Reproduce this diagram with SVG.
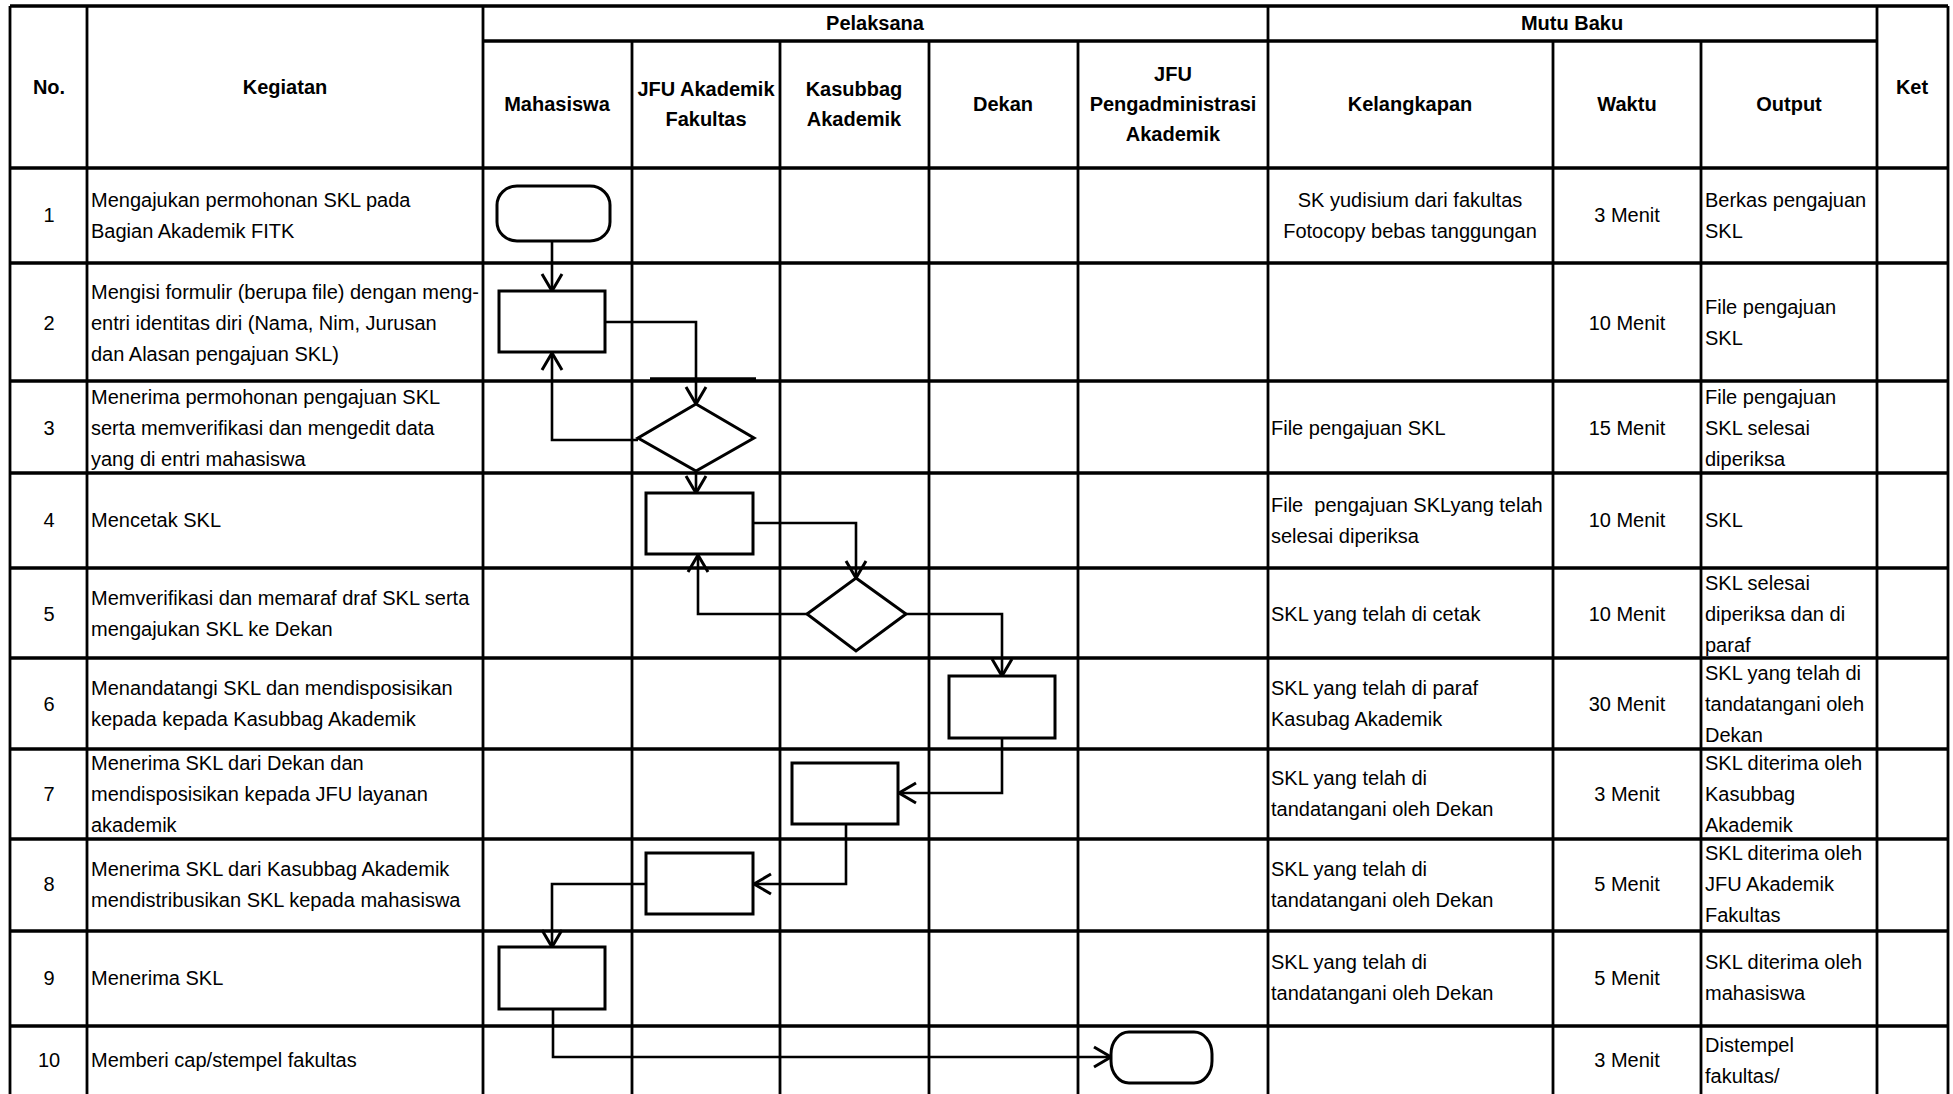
<svg xmlns="http://www.w3.org/2000/svg" width="1953" height="1094" viewBox="0 0 1953 1094">
<style>
  .bg{fill:#fff}
  .h{stroke:#000;stroke-width:3.5;fill:none}
  .v{stroke:#000;stroke-width:2.8;fill:none}
  .shape{fill:#fff;stroke:#000;stroke-width:3}
  .conn{fill:none;stroke:#000;stroke-width:2.6;stroke-linejoin:miter}
  text{font-family:"Liberation Sans",Arial,sans-serif;font-size:20px;fill:#000;dominant-baseline:central}
  .hd{font-weight:bold;text-anchor:middle}
  .c{text-anchor:middle}
  .l{text-anchor:start}
</style>
<defs>
  <marker id="arr" markerUnits="userSpaceOnUse" markerWidth="40" markerHeight="40" refX="0" refY="0" orient="auto" overflow="visible" viewBox="-20 -20 40 40">
    <path d="M-17,-10 L0,0 L-17,10" fill="none" stroke="#000" stroke-width="3"/>
  </marker>
</defs>
<rect class="bg" x="0" y="0" width="1953" height="1094"/>

<g id="table">
  <line class="h" x1="10" y1="6" x2="1948" y2="6"/>
  <line class="h" x1="483" y1="41" x2="1877" y2="41"/>
  <line class="h" x1="10" y1="168" x2="1948" y2="168"/>
  <line class="h" x1="10" y1="263" x2="1948" y2="263"/>
  <line class="h" x1="10" y1="381" x2="1948" y2="381"/>
  <line class="h" x1="10" y1="473" x2="1948" y2="473"/>
  <line class="h" x1="10" y1="568" x2="1948" y2="568"/>
  <line class="h" x1="10" y1="658" x2="1948" y2="658"/>
  <line class="h" x1="10" y1="749" x2="1948" y2="749"/>
  <line class="h" x1="10" y1="839" x2="1948" y2="839"/>
  <line class="h" x1="10" y1="931" x2="1948" y2="931"/>
  <line class="h" x1="10" y1="1026" x2="1948" y2="1026"/>
  <line class="v" x1="10" y1="6" x2="10" y2="1094"/>
  <line class="v" x1="87" y1="6" x2="87" y2="1094"/>
  <line class="v" x1="483" y1="6" x2="483" y2="1094"/>
  <line class="v" x1="632" y1="41" x2="632" y2="1094"/>
  <line class="v" x1="780" y1="41" x2="780" y2="1094"/>
  <line class="v" x1="929" y1="41" x2="929" y2="1094"/>
  <line class="v" x1="1078" y1="41" x2="1078" y2="1094"/>
  <line class="v" x1="1268" y1="6" x2="1268" y2="1094"/>
  <line class="v" x1="1553" y1="41" x2="1553" y2="1094"/>
  <line class="v" x1="1701" y1="41" x2="1701" y2="1094"/>
  <line class="v" x1="1877" y1="6" x2="1877" y2="1094"/>
  <line class="v" x1="1948" y1="6" x2="1948" y2="1094"/>

  <text class="hd" x="49" y="87">No.</text>
  <text class="hd" x="285" y="87">Kegiatan</text>
  <text class="hd" x="875" y="23">Pelaksana</text>
  <text class="hd" x="1572" y="23">Mutu Baku</text>
  <text class="hd" x="1912" y="87">Ket</text>
  <text class="hd" x="557" y="104">Mahasiswa</text>
  <text class="hd" x="706" y="89">JFU Akademik</text>
  <text class="hd" x="706" y="119">Fakultas</text>
  <text class="hd" x="854" y="89">Kasubbag</text>
  <text class="hd" x="854" y="119">Akademik</text>
  <text class="hd" x="1003" y="104">Dekan</text>
  <text class="hd" x="1173" y="74">JFU</text>
  <text class="hd" x="1173" y="104">Pengadministrasi</text>
  <text class="hd" x="1173" y="134">Akademik</text>
  <text class="hd" x="1410" y="104">Kelangkapan</text>
  <text class="hd" x="1627" y="104">Waktu</text>
  <text class="hd" x="1789" y="104">Output</text>

  <text class="c" x="49" y="215">1</text>
  <text class="c" x="49" y="323">2</text>
  <text class="c" x="49" y="428">3</text>
  <text class="c" x="49" y="520">4</text>
  <text class="c" x="49" y="614">5</text>
  <text class="c" x="49" y="704">6</text>
  <text class="c" x="49" y="794">7</text>
  <text class="c" x="49" y="884">8</text>
  <text class="c" x="49" y="978">9</text>
  <text class="c" x="49" y="1060">10</text>

  <text class="l" x="91" y="200">Mengajukan permohonan SKL pada</text>
  <text class="l" x="91" y="231">Bagian Akademik FITK</text>
  <text class="l" x="91" y="292">Mengisi formulir (berupa file) dengan meng-</text>
  <text class="l" x="91" y="323">entri identitas diri (Nama, Nim, Jurusan</text>
  <text class="l" x="91" y="354">dan Alasan pengajuan SKL)</text>
  <text class="l" x="91" y="397">Menerima permohonan pengajuan SKL</text>
  <text class="l" x="91" y="428">serta memverifikasi dan mengedit data</text>
  <text class="l" x="91" y="459">yang di entri mahasiswa</text>
  <text class="l" x="91" y="520">Mencetak SKL</text>
  <text class="l" x="91" y="598">Memverifikasi dan memaraf draf SKL serta</text>
  <text class="l" x="91" y="629">mengajukan SKL ke Dekan</text>
  <text class="l" x="91" y="688">Menandatangi SKL dan mendisposisikan</text>
  <text class="l" x="91" y="719">kepada kepada Kasubbag Akademik</text>
  <text class="l" x="91" y="763">Menerima SKL dari Dekan dan</text>
  <text class="l" x="91" y="794">mendisposisikan kepada JFU layanan</text>
  <text class="l" x="91" y="825">akademik</text>
  <text class="l" x="91" y="869">Menerima SKL dari Kasubbag Akademik</text>
  <text class="l" x="91" y="900">mendistribusikan SKL kepada mahasiswa</text>
  <text class="l" x="91" y="978">Menerima SKL</text>
  <text class="l" x="91" y="1060">Memberi cap/stempel fakultas</text>

  <text class="c" x="1410" y="200">SK yudisium dari fakultas</text>
  <text class="c" x="1410" y="231">Fotocopy bebas tanggungan</text>
  <text class="l" x="1271" y="428">File pengajuan SKL</text>
  <text class="l" x="1271" y="505" xml:space="preserve">File  pengajuan SKLyang telah</text>
  <text class="l" x="1271" y="536">selesai diperiksa</text>
  <text class="l" x="1271" y="614">SKL yang telah di cetak</text>
  <text class="l" x="1271" y="688">SKL yang telah di paraf</text>
  <text class="l" x="1271" y="719">Kasubag Akademik</text>
  <text class="l" x="1271" y="778">SKL yang telah di</text>
  <text class="l" x="1271" y="809">tandatangani oleh Dekan</text>
  <text class="l" x="1271" y="869">SKL yang telah di</text>
  <text class="l" x="1271" y="900">tandatangani oleh Dekan</text>
  <text class="l" x="1271" y="962">SKL yang telah di</text>
  <text class="l" x="1271" y="993">tandatangani oleh Dekan</text>

  <text class="c" x="1627" y="215">3 Menit</text>
  <text class="c" x="1627" y="323">10 Menit</text>
  <text class="c" x="1627" y="428">15 Menit</text>
  <text class="c" x="1627" y="520">10 Menit</text>
  <text class="c" x="1627" y="614">10 Menit</text>
  <text class="c" x="1627" y="704">30 Menit</text>
  <text class="c" x="1627" y="794">3 Menit</text>
  <text class="c" x="1627" y="884">5 Menit</text>
  <text class="c" x="1627" y="978">5 Menit</text>
  <text class="c" x="1627" y="1060">3 Menit</text>

  <text class="l" x="1705" y="200">Berkas pengajuan</text>
  <text class="l" x="1705" y="231">SKL</text>
  <text class="l" x="1705" y="307">File pengajuan</text>
  <text class="l" x="1705" y="338">SKL</text>
  <text class="l" x="1705" y="397">File pengajuan</text>
  <text class="l" x="1705" y="428">SKL selesai</text>
  <text class="l" x="1705" y="459">diperiksa</text>
  <text class="l" x="1705" y="520">SKL</text>
  <text class="l" x="1705" y="583">SKL selesai</text>
  <text class="l" x="1705" y="614">diperiksa dan di</text>
  <text class="l" x="1705" y="645">paraf</text>
  <text class="l" x="1705" y="673">SKL yang telah di</text>
  <text class="l" x="1705" y="704">tandatangani oleh</text>
  <text class="l" x="1705" y="735">Dekan</text>
  <text class="l" x="1705" y="763">SKL diterima oleh</text>
  <text class="l" x="1705" y="794">Kasubbag</text>
  <text class="l" x="1705" y="825">Akademik</text>
  <text class="l" x="1705" y="853">SKL diterima oleh</text>
  <text class="l" x="1705" y="884">JFU Akademik</text>
  <text class="l" x="1705" y="915">Fakultas</text>
  <text class="l" x="1705" y="962">SKL diterima oleh</text>
  <text class="l" x="1705" y="993">mahasiswa</text>
  <text class="l" x="1705" y="1045">Distempel</text>
  <text class="l" x="1705" y="1076">fakultas/</text>

  <line class="h" x1="650" y1="379" x2="756" y2="379"/>
</g>

<g id="connectors">
  <path class="conn" d="M552,241 L552,291" marker-end="url(#arr)"/>
  <path class="conn" d="M605,322 L696,322 L696,404" marker-end="url(#arr)"/>
  <path class="conn" d="M638,440 L552,440 L552,353" marker-end="url(#arr)"/>
  <path class="conn" d="M696,471 L696,493" marker-end="url(#arr)"/>
  <path class="conn" d="M753,523 L856,523 L856,578" marker-end="url(#arr)"/>
  <path class="conn" d="M807,614 L698,614 L698,555" marker-end="url(#arr)"/>
  <path class="conn" d="M906,614 L1002,614 L1002,676" marker-end="url(#arr)"/>
  <path class="conn" d="M1002,738 L1002,793 L899,793" marker-end="url(#arr)"/>
  <path class="conn" d="M846,824 L846,884 L754,884" marker-end="url(#arr)"/>
  <path class="conn" d="M646,884 L552,884 L552,947" marker-end="url(#arr)"/>
  <path class="conn" d="M553,1009 L553,1057 L1111,1057" marker-end="url(#arr)"/>
</g>

<g id="n1"><rect class="shape" x="497" y="186" width="113" height="55" rx="20" ry="19"/></g>
<g id="n2"><rect class="shape" x="499" y="291" width="106" height="61"/></g>
<g id="n3"><polygon class="shape" points="696,404 754,438 696,471 638,438"/></g>
<g id="n4"><rect class="shape" x="646" y="493" width="107" height="61"/></g>
<g id="n5"><polygon class="shape" points="856,578 906,614 856,651 807,614"/></g>
<g id="n6"><rect class="shape" x="949" y="676" width="106" height="62"/></g>
<g id="n7"><rect class="shape" x="792" y="763" width="106" height="61"/></g>
<g id="n8"><rect class="shape" x="646" y="853" width="107" height="61"/></g>
<g id="n9"><rect class="shape" x="499" y="947" width="106" height="62"/></g>
<g id="n10"><rect class="shape" x="1111" y="1032" width="101" height="51" rx="18" ry="22"/></g>
</svg>
